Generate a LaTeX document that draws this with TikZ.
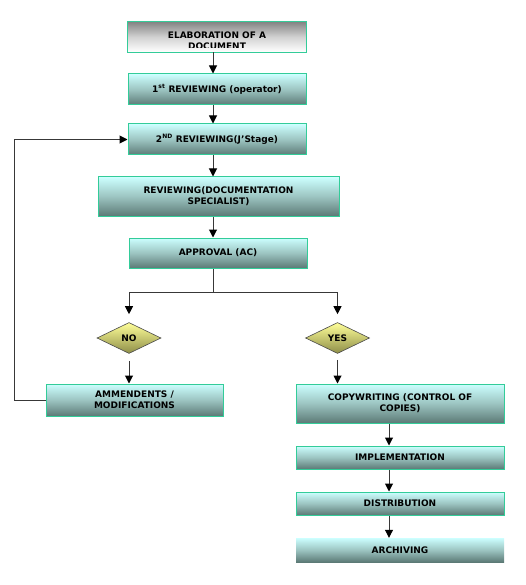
\documentclass[tikz,border=0pt]{standalone}
\usepackage{fontspec}
\setmainfont{DejaVu Sans}
\usetikzlibrary{shapes.geometric,arrows.meta}
\definecolor{boxtop}{HTML}{CCFFFF}
\definecolor{boxmid}{HTML}{9CC4C1}
\definecolor{boxbot}{HTML}{5C7A76}
\definecolor{boxline}{HTML}{33CC99}
\definecolor{greytop}{HTML}{858585}
\definecolor{greymid}{HTML}{D2D2D2}
\definecolor{diatop}{HTML}{FFFF99}
\definecolor{diabot}{HTML}{8E8E48}
\definecolor{dialine}{HTML}{4A4A4A}
\definecolor{linecol}{HTML}{383838}
\tikzset{
  txt/.style={font=\bfseries\fontsize{9}{11}\selectfont, align=center, text=black},
  flowbox/.style={txt, draw=boxline, line width=1pt, top color=boxtop, bottom color=boxbot, middle color=boxmid, inner sep=0pt},
  plainbox/.style={txt, top color=boxtop, bottom color=boxbot, middle color=boxmid, inner sep=0pt},
  firstbox/.style={top color=greytop, bottom color=white, middle color=greymid, inner sep=0pt},
  decision/.style={txt, diamond, aspect=2, draw=dialine, line width=0.6pt, top color=diatop, bottom color=diabot, inner sep=0pt, minimum width=64pt, minimum height=31pt},
  conn/.style={draw=linecol, line width=1pt, -{Triangle[width=8pt,length=8pt,color=black]}},
  plainline/.style={draw=linecol, line width=1pt}
}
\begin{document}
\begin{tikzpicture}[x=1pt,y=-1pt]
\useasboundingbox (0,0) rectangle (525,585);
\coordinate (axis) at (213,0);
\coordinate (axisb) at (389,0);
\coordinate (fb) at (14,0);
\coordinate (split) at (213,292);

% first box (text clipped above its lower frame)
\node[firstbox, minimum width=178pt, minimum height=30pt] (b1) at (217,37) {};
\begin{scope}
  \clip (b1.north west) rectangle (217+89,47.5);
  \node[txt] (b1text) at (217,41) {ELABORATION OF A\\DOCUMENT};
\end{scope}
\draw[boxline, line width=1pt] (b1.south west) rectangle (b1.north east);

\node[flowbox, minimum width=178pt, minimum height=31pt] (b2) at (217,89.5) {1\textsuperscript{st} REVIEWING (operator)};
\node[flowbox, minimum width=178pt, minimum height=31pt] (b3) at (217,139.5) {2\textsuperscript{ND} REVIEWING(J'Stage)};
\node[flowbox, minimum width=241pt, minimum height=39pt] (b4) at (218.5,196.5) {REVIEWING(DOCUMENTATION\\SPECIALIST)};
\node[flowbox, minimum width=178pt, minimum height=30pt] (b5) at (218,253) {APPROVAL (AC)};

\node[decision] (no) at (129,338) {NO};
\node[decision] (yes) at (337.5,338) {YES};

\node[flowbox, minimum width=177pt, minimum height=32pt] (amend) at (134.5,400) {AMMENDENTS /\\MODIFICATIONS};
\node[flowbox, minimum width=208pt, minimum height=39pt] (copy) at (400,403.5) {COPYWRITING (CONTROL OF\\COPIES)};
\node[flowbox, minimum width=208pt, minimum height=23pt] (impl) at (400,457.5) {IMPLEMENTATION};
\node[flowbox, minimum width=208pt, minimum height=23pt] (dist) at (400,503.5) {DISTRIBUTION};
\node[plainbox, minimum width=208pt, minimum height=24pt] (arch) at (400,550) {ARCHIVING};

% connectors
\draw[conn] (b1.south -| axis) -- (b2.north -| axis);
\draw[conn] (b2.south -| axis) -- (b3.north -| axis);
\draw[conn] (b3.south -| axis) -- (b4.north -| axis);
\draw[conn] (b4.south -| axis) -- (b5.north -| axis);
\draw[plainline] (b5.south -| axis) -- (split);
\draw[conn, shorten >=8pt] (split) -| (no.north);
\draw[conn, shorten >=8pt] (split) -| (yes.north);
\draw[conn, shorten <=7pt] (no.south) -- (no.south |- amend.north);
\draw[conn, shorten <=6pt] (yes.south) -- (yes.south |- copy.north);
\draw[conn] (copy.south -| axisb) -- (impl.north -| axisb);
\draw[conn] (impl.south -| axisb) -- (dist.north -| axisb);
\draw[conn] (dist.south -| axisb) -- (arch.north -| axisb);
\draw[conn] (amend.west) -- (amend.west -| fb) |- (b3.west);
\end{tikzpicture}
\end{document}
